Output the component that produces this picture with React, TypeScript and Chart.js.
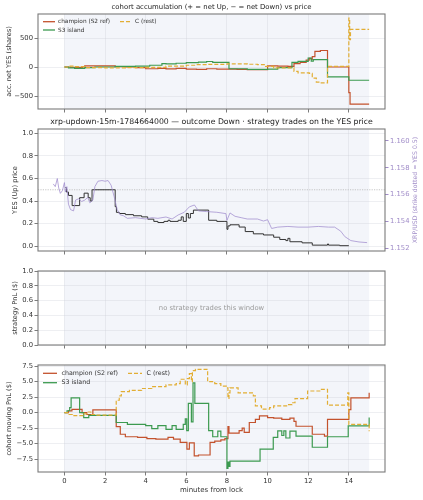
import React, { useEffect, useRef } from "react";
import { Chart, registerables } from "chart.js";

Chart.register(...registerables);

const FONT = "'DejaVu Sans', 'Liberation Sans', sans-serif";

// ---------- shared x axis (minutes from lock) ----------
const X_MIN = -1.3;
const X_MAX = 15.78;
const X_TICKS = [0, 2, 4, 6, 8, 10, 12, 14];
const WINDOW_START = 0;
const WINDOW_END = 15;

// ---------- panel 1: cohort accumulation (net YES shares) ----------
const SHARES_TICKS = [-500, 0, 500];
const champShares: [number, number][] = [
  [0, 0], [0.3, -5], [0.9, 5], [1.0, 18], [2.5, 5], [3.0, 0], [3.5, -10], [4.0, -30], [4.6, -25], [5.0, -32],
  [5.5, -25], [6.0, -35], [6.5, -40], [7.0, -30], [7.5, -35], [8.0, -35], [8.5, -40], [9.0, -45], [10.0, 20],
  [10.5, 15], [11.0, 10], [11.3, 60], [11.6, 80], [11.9, 120], [12.05, 150], [12.15, 130], [12.2, 180],
  [12.33, 270], [12.6, 285], [12.95, 0], [14.0, -440], [14.06, -640], [15.0, -640],
];
const s3Shares: [number, number][] = [
  [0, 0], [0.2, -15], [0.5, -25], [1.0, -10], [1.5, 0], [2.5, 10], [3.5, 15], [4.2, 30], [4.8, 60], [5.0, 55],
  [5.5, 65], [6.0, 75], [6.6, 85], [7.0, 95], [7.3, 80], [8.1, -30], [9.0, -40], [10.0, -35], [10.5, -10],
  [11.2, 80], [11.5, 98], [12.0, 155], [12.15, 100], [12.25, 126], [12.95, -170], [14.0, -228], [15.0, -228],
];
const cRestShares: [number, number][] = [
  [0, 0], [0.2, 15], [0.5, 5], [1.0, -10], [2.0, -15], [3.0, -10], [4.0, -5], [5.0, 15], [6.0, 30],
  [6.5, 40], [7.0, 45], [8.0, 55], [9.0, 48], [9.5, 40], [9.9, 10], [10.3, -15], [11.3, -75], [11.5, -100],
  [12.05, -110], [12.2, -190], [12.4, -260], [12.6, -275], [12.95, 10], [14.0, 845], [14.04, 470],
  [14.08, 650], [15.0, 650],
];

// ---------- panel 2: YES price and XRP/USD ----------
const PRICE_TICKS = [0, 0.2, 0.4, 0.6, 0.8, 1.0];
const XRP_TICKS = [1.152, 1.154, 1.156, 1.158, 1.16];
const STRIKE_YES = 0.5;
const yesPrice: [number, number][] = [
  [0.05, 0.52], [0.1, 0.48], [0.2, 0.45], [0.38, 0.36], [0.75, 0.43], [0.97, 0.47], [1.17, 0.43], [1.27, 0.4],
  [1.36, 0.5], [2.5, 0.35], [2.56, 0.3], [2.7, 0.29], [3.0, 0.28], [3.4, 0.27], [3.8, 0.26], [4.1, 0.24],
  [4.4, 0.22], [4.6, 0.21], [4.9, 0.22], [5.1, 0.23], [5.2, 0.22], [5.6, 0.23], [5.75, 0.26], [5.85, 0.22],
  [6.0, 0.29], [6.1, 0.25], [6.2, 0.29], [6.35, 0.32], [7.1, 0.23], [7.5, 0.22], [7.9, 0.22], [8.0, 0.15],
  [8.05, 0.18], [8.15, 0.19], [8.6, 0.17], [8.9, 0.13], [9.3, 0.11], [9.8, 0.1], [10.3, 0.08], [10.6, 0.06],
  [10.9, 0.05], [11.0, 0.07], [11.1, 0.04], [11.7, 0.03], [12.2, 0.01], [12.95, 0.02], [13.0, 0.01],
  [13.55, 0.005], [14.0, 0.005],
];
const xrpPrice: [number, number][] = [
  [-0.55, 1.1568], [-0.45, 1.1566], [-0.35, 1.1572], [-0.28, 1.1565], [-0.2, 1.1561], [-0.1, 1.1563],
  [0.0, 1.1569], [0.05, 1.1562], [0.12, 1.1566], [0.2, 1.1553], [0.3, 1.1549], [0.45, 1.1548],
  [0.55, 1.1556], [0.7, 1.1557], [0.85, 1.1555], [1.0, 1.1556], [1.15, 1.1558], [1.25, 1.1554],
  [1.4, 1.1556], [1.5, 1.1566], [1.65, 1.157], [1.85, 1.15705], [2.0, 1.157], [2.15, 1.15705],
  [2.3, 1.1567], [2.45, 1.15585], [2.6, 1.1549], [2.75, 1.1545], [2.9, 1.15445], [3.1, 1.15425],
  [3.5, 1.1543], [4.0, 1.1542], [4.3, 1.1543], [4.6, 1.15425], [5.0, 1.15435], [5.3, 1.1542],
  [5.6, 1.1545], [5.9, 1.1547], [6.15, 1.1551], [6.4, 1.15524], [6.6, 1.1548], [7.0, 1.15475],
  [7.5, 1.1547], [7.95, 1.1546], [8.0, 1.1541], [8.15, 1.15465], [8.4, 1.1544], [8.7, 1.1543],
  [9.0, 1.1542], [9.5, 1.1542], [9.8, 1.15405], [10.0, 1.15415], [10.2, 1.1535], [10.5, 1.1536],
  [11.0, 1.15365], [11.5, 1.1536], [12.0, 1.1536], [12.5, 1.15365], [13.0, 1.1536], [13.3, 1.1536],
  [13.6, 1.1533], [13.8, 1.1529], [14.1, 1.1526], [14.5, 1.1525], [14.9, 1.15245],
];

// ---------- panel 3: strategy PnL (empty) ----------
const STRAT_TICKS = [0, 0.2, 0.4, 0.6, 0.8, 1.0];

// ---------- panel 4: cohort moving PnL ($) ----------
const PNL_TICKS = [-7.5, -5, -2.5, 0, 2.5, 5, 7.5];
const champPnl: [number, number][] = [
  [0, 0], [0.2, 0.27], [0.37, 0.54], [0.87, 0.0], [1.1, -0.3], [1.4, 0.43], [2.55, -2.25], [2.75, -3.5],
  [3.0, -3.9], [3.6, -4.0], [4.06, -4.2], [4.5, -4.3], [5.1, -4.0], [5.37, -4.3], [5.7, -4.8], [6.03, -5.9],
  [6.15, -4.9], [6.39, -7.0], [6.6, -6.85], [7.17, -4.8], [7.4, -4.6], [7.7, -4.4], [7.9, -4.2],
  [8.05, -2.25], [8.1, -3.3], [8.6, -2.9], [8.75, -2.5], [8.85, -3.2], [9.1, -1.6], [9.4, -1.1],
  [9.6, -0.54], [10.0, -0.8], [10.3, -0.9], [10.7, -1.1], [11.1, -0.9], [11.3, -1.4], [11.4, -2.2],
  [12.2, -3.5], [12.8, -3.8], [12.95, -1.1], [14.0, 0.5], [14.1, 2.4], [15.0, 3.2],
];
const s3Pnl: [number, number][] = [
  [0, 0], [0.13, 0.3], [0.26, 0.8], [0.33, 2.4], [0.75, 0.0], [0.95, -0.8], [1.2, -0.45], [2.55, -1.6],
  [3.1, -1.9], [4.0, -2.1], [4.3, -2.6], [4.6, -2.1], [5.0, -2.7], [5.3, -2.1], [5.5, -2.7], [5.85, -1.9],
  [5.95, -1.0], [6.02, -2.9], [6.1, 1.5], [6.25, -1.5], [6.33, 4.8], [6.42, 1.5], [7.1, -2.9], [7.3, -3.9],
  [7.55, -3.0], [7.7, -3.9], [8.0, -9.0], [8.05, -8.0], [8.1, -8.7], [8.15, -7.85], [9.63, -5.9],
  [10.28, -4.0], [10.5, -2.95], [10.7, -3.7], [10.8, -2.95], [10.9, -4.1], [11.1, -3.0], [11.4, -3.8],
  [12.2, -5.6], [12.95, -3.9], [13.97, -2.15], [15.0, -0.8],
];
const cRestPnl: [number, number][] = [
  [0, 0], [0.2, -0.3], [0.4, -0.5], [0.9, -0.2], [1.1, 0.1], [1.3, -0.3], [1.6, -0.4], [2.55, 2.0],
  [2.7, 2.7], [2.8, 3.4], [3.2, 3.6], [3.8, 3.9], [4.3, 4.2], [5.0, 4.5], [5.5, 4.7], [5.7, 5.4],
  [5.95, 4.5], [6.05, 5.5], [6.15, 6.3], [6.25, 5.0], [6.3, 6.8], [6.45, 7.0], [7.05, 5.0], [7.4, 4.7],
  [7.7, 4.3], [8.0, 4.0], [8.05, 2.3], [8.1, 3.2], [8.15, 4.0], [8.55, 3.2], [9.3, 2.7], [9.4, 1.1],
  [9.7, 0.55], [10.1, 0.8], [10.3, 1.1], [11.0, 1.3], [11.2, 1.6], [11.35, 2.25], [11.97, 3.5],
  [12.6, 3.75], [12.95, 1.2], [13.95, 3.2], [14.0, -1.9], [15.0, -3.0],
];

// ---------- labels ----------
const TITLE_TOP = "cohort accumulation (+ = net Up, \u2212 = net Down) vs price";
const TITLE_MAIN = "xrp-updown-15m-1784664000 \u2014 outcome Down \u00b7 strategy trades on the YES price";
const LABEL_CHAMP = "champion (S2 ref)";
const LABEL_S3 = "S3 island";
const LABEL_C = "C (rest)";

// ---------- styles ----------
const C_CHAMP = "#c3522d";
const C_S3 = "#3c9a50";
const C_REST = "#e2ae34";
const C_YES = "#333333";
const C_XRP = "rgba(160,140,205,0.75)";
const C_XRP_TEXT = "#a08cc8";
const SHADE = "#f3f5fa";
const GRID = "rgba(200,204,214,0.45)";
const TICK = "#444";
const TEXT = "#333";
const FRAME = "#7a7a7a";
const W = 423;
const PLOT_LEFT = 38;
const PLOT_RIGHT = 385;
const TICK_SIZE = 6.8;
const AXIS_TITLE_SIZE = 6.7;

const pts = (a: [number, number][]) => a.map(([x, y]) => ({ x, y }));
const fmt = (v: number, d: number) => (v < -1e-9 ? "\u2212" : "") + Math.abs(v).toFixed(d);

function lineDs(label: string, data: [number, number][], color: string, opts: any = {}) {
  return {
    label,
    data: pts(data),
    borderColor: color,
    backgroundColor: color,
    borderWidth: 1.2,
    pointRadius: 0,
    stepped: true,
    tension: 0,
    fill: false,
    ...opts,
  };
}

function setFont(ctx: CanvasRenderingContext2D, size: number) {
  ctx.font = `${size}px ${FONT}`;
}

function drawVText(ctx: CanvasRenderingContext2D, text: string, x: number, y: number, size: number, color: string) {
  ctx.save();
  setFont(ctx, size);
  ctx.fillStyle = color;
  ctx.translate(x, y);
  ctx.rotate(-Math.PI / 2);
  ctx.textAlign = "center";
  ctx.textBaseline = "middle";
  ctx.fillText(text, 0, 0);
  ctx.restore();
}

function drawHText(ctx: CanvasRenderingContext2D, text: string, x: number, y: number, size: number, color: string) {
  ctx.save();
  setFont(ctx, size);
  ctx.fillStyle = color;
  ctx.textAlign = "center";
  ctx.textBaseline = "middle";
  ctx.fillText(text, x, y);
  ctx.restore();
}

type LegItem = { label: string; color: string; dash?: number[] };
function drawLegend(
  ctx: CanvasRenderingContext2D,
  cols: LegItem[][],
  colX: number[],
  rowY: number[],
  lineLen: number,
  textGap: number,
  size: number
) {
  ctx.save();
  setFont(ctx, size);
  ctx.textAlign = "left";
  ctx.textBaseline = "middle";
  cols.forEach((col, ci) => {
    col.forEach((it, ri) => {
      const x = colX[ci];
      const y = rowY[ri];
      ctx.strokeStyle = it.color;
      ctx.lineWidth = 1.3;
      ctx.setLineDash(it.dash || []);
      ctx.beginPath();
      ctx.moveTo(x, y);
      ctx.lineTo(x + lineLen, y);
      ctx.stroke();
      ctx.setLineDash([]);
      ctx.fillStyle = TEXT;
      ctx.fillText(it.label, x + lineLen + textGap, y);
    });
  });
  ctx.restore();
}

type Spec = {
  top: number;
  height: number;
  padTop: number;
  xAxisH: number;
  xLabels: boolean;
  yMin: number;
  yMax: number;
  yTicks: number[];
  yDec: number;
  right?: { min: number; max: number; ticks: number[]; dec: number };
  datasets: any[];
  texts: (ctx: CanvasRenderingContext2D, chart: any) => void;
};

const DASH = [4, 2];

const SPECS: Spec[] = [
  {
    top: 0,
    height: 118,
    padTop: 14,
    xAxisH: 9,
    xLabels: false,
    yMin: -724,
    yMax: 914,
    yTicks: SHARES_TICKS,
    yDec: 0,
    datasets: [
      lineDs(LABEL_C, cRestShares, C_REST, { borderDash: DASH }),
      lineDs(LABEL_S3, s3Shares, C_S3),
      lineDs(LABEL_CHAMP, champShares, C_CHAMP),
    ],
    texts: (ctx, chart) => {
      const a = chart.chartArea;
      drawHText(ctx, TITLE_TOP, (a.left + a.right) / 2, 7.3, 6.9, "#222");
      drawVText(ctx, "acc. net YES (shares)", 9.3, (a.top + a.bottom) / 2, AXIS_TITLE_SIZE, TEXT);
      drawLegend(
        ctx,
        [
          [{ label: LABEL_CHAMP, color: C_CHAMP }, { label: LABEL_S3, color: C_S3 }],
          [{ label: LABEL_C, color: C_REST, dash: DASH }],
        ],
        [43, 120],
        [21.7, 30],
        12,
        3,
        5.8
      );
    },
  },
  {
    top: 112,
    height: 148,
    padTop: 17,
    xAxisH: 9,
    xLabels: false,
    yMin: -0.042,
    yMax: 1.038,
    yTicks: PRICE_TICKS,
    yDec: 1,
    right: { min: 1.15183, max: 1.16087, ticks: XRP_TICKS, dec: 3 },
    datasets: [
      lineDs("XRP/USD", xrpPrice, C_XRP, { stepped: false, yAxisID: "y1", borderWidth: 1.0 }),
      lineDs("YES", yesPrice, C_YES, { borderWidth: 1.0 }),
      lineDs(
        "strike",
        [
          [X_MIN, STRIKE_YES],
          [X_MAX, STRIKE_YES],
        ],
        "#b8b8b8",
        { stepped: false, borderWidth: 0.8, borderDash: [1.2, 1.2] }
      ),
    ],
    texts: (ctx, chart) => {
      const a = chart.chartArea;
      drawHText(ctx, TITLE_MAIN, (a.left + a.right) / 2, 10.3, 7.75, "#222");
      drawVText(ctx, "YES (Up) price", 15, (a.top + a.bottom) / 2, AXIS_TITLE_SIZE, TEXT);
      drawVText(ctx, "XRP/USD (strike dotted = YES 0.5)", 415, (a.top + a.bottom) / 2, 6.2, C_XRP_TEXT);
    },
  },
  {
    top: 260,
    height: 94,
    padTop: 11,
    xAxisH: 9,
    xLabels: false,
    yMin: 0,
    yMax: 1,
    yTicks: STRAT_TICKS,
    yDec: 1,
    datasets: [],
    texts: (ctx, chart) => {
      const a = chart.chartArea;
      drawVText(ctx, "strategy PnL ($)", 15, (a.top + a.bottom) / 2, AXIS_TITLE_SIZE, TEXT);
      drawHText(ctx, "no strategy trades this window", (a.left + a.right) / 2, (a.top + a.bottom) / 2, 6.8, "#9a9a9a");
    },
  },
  {
    top: 354,
    height: 146,
    padTop: 11,
    xAxisH: 28,
    xLabels: true,
    yMin: -9.6,
    yMax: 7.7,
    yTicks: PNL_TICKS,
    yDec: 1,
    datasets: [
      lineDs(LABEL_C, cRestPnl, C_REST, { borderDash: DASH }),
      lineDs(LABEL_S3, s3Pnl, C_S3),
      lineDs(LABEL_CHAMP, champPnl, C_CHAMP),
    ],
    texts: (ctx, chart) => {
      const a = chart.chartArea;
      drawVText(ctx, "cohort moving PnL ($)", 9.5, (a.top + a.bottom) / 2, AXIS_TITLE_SIZE, TEXT);
      drawHText(ctx, "minutes from lock", (a.left + a.right) / 2, 136, 7, TEXT);
      drawLegend(
        ctx,
        [
          [{ label: LABEL_CHAMP, color: C_CHAMP }, { label: LABEL_S3, color: C_S3 }],
          [{ label: LABEL_C, color: C_REST, dash: DASH }],
        ],
        [43, 128],
        [19.3, 28.7],
        14,
        4.5,
        6.3
      );
    },
  },
];

function buildConfig(spec: Spec): any {
  const tickFont = { family: FONT, size: TICK_SIZE };
  const scales: any = {
    x: {
      type: "linear",
      min: X_MIN,
      max: X_MAX,
      afterBuildTicks: (s: any) => {
        s.ticks = X_TICKS.map((v) => ({ value: v }));
      },
      afterFit: (s: any) => {
        s.height = spec.xAxisH;
      },
      ticks: {
        display: spec.xLabels,
        font: tickFont,
        color: TEXT,
        padding: 1.2,
        maxRotation: 0,
        autoSkip: false,
        callback: (v: number) => fmt(v, 0),
      },
      grid: { color: GRID, tickColor: TICK, tickLength: 3.5, lineWidth: 0.7 },
      border: { display: false },
    },
    y: {
      type: "linear",
      position: "left",
      min: spec.yMin,
      max: spec.yMax,
      afterBuildTicks: (s: any) => {
        s.ticks = spec.yTicks.map((v) => ({ value: v }));
      },
      afterFit: (s: any) => {
        s.width = PLOT_LEFT;
      },
      ticks: {
        font: tickFont,
        color: TEXT,
        padding: 1.5,
        autoSkip: false,
        callback: (v: number) => fmt(v, spec.yDec),
      },
      grid: { color: GRID, tickColor: TICK, tickLength: 3.5, lineWidth: 0.7 },
      border: { display: false },
    },
  };
  if (spec.right) {
    const r = spec.right;
    scales.y1 = {
      type: "linear",
      position: "right",
      min: r.min,
      max: r.max,
      afterBuildTicks: (s: any) => {
        s.ticks = r.ticks.map((v) => ({ value: v }));
      },
      afterFit: (s: any) => {
        s.width = W - PLOT_RIGHT;
      },
      ticks: {
        font: tickFont,
        color: C_XRP_TEXT,
        padding: 1.5,
        autoSkip: false,
        callback: (v: number) => v.toFixed(r.dec),
      },
      grid: { drawOnChartArea: false, color: GRID, tickColor: C_XRP_TEXT, tickLength: 3.5 },
      border: { display: false },
    };
  }

  const decor = {
    id: "decor",
    beforeDraw(chart: any) {
      const { ctx, chartArea: a, scales: sc } = chart;
      ctx.save();
      ctx.fillStyle = "#ffffff";
      ctx.fillRect(a.left, a.top, a.right - a.left, a.bottom - a.top);
      const x0 = sc.x.getPixelForValue(WINDOW_START);
      const x1 = sc.x.getPixelForValue(WINDOW_END);
      ctx.fillStyle = SHADE;
      ctx.fillRect(x0, a.top, x1 - x0, a.bottom - a.top);
      ctx.restore();
    },
    afterDraw(chart: any) {
      const { ctx, chartArea: a } = chart;
      ctx.save();
      ctx.strokeStyle = FRAME;
      ctx.lineWidth = 1.1;
      ctx.strokeRect(a.left, a.top, a.right - a.left, a.bottom - a.top);
      ctx.restore();
      spec.texts(ctx, chart);
    },
  };

  return {
    type: "line",
    data: { datasets: spec.datasets },
    options: {
      animation: false,
      responsive: false,
      maintainAspectRatio: false,
      devicePixelRatio: 1,
      layout: { padding: { top: spec.padTop, left: 0, right: spec.right ? 0 : W - PLOT_RIGHT, bottom: 0 } },
      plugins: { legend: { display: false }, tooltip: { enabled: false }, title: { display: false } },
      scales,
      elements: { line: { borderCapStyle: "butt", borderJoinStyle: "miter" } },
    },
    plugins: [decor],
  };
}

function Panel({ spec }: { spec: Spec }) {
  const ref = useRef<HTMLCanvasElement>(null);
  useEffect(() => {
    const chart = new Chart(ref.current as HTMLCanvasElement, buildConfig(spec));
    return () => chart.destroy();
  }, [spec]);
  return (
    <canvas
      ref={ref}
      width={W}
      height={spec.height}
      style={{ position: "absolute", left: 0, top: spec.top, width: W, height: spec.height }}
    />
  );
}

export default function App() {
  return (
    <div style={{ position: "absolute", left: 0, top: 0, width: W, height: 500, background: "#ffffff" }}>
      {SPECS.map((s, i) => (
        <Panel key={i} spec={s} />
      ))}
    </div>
  );
}
